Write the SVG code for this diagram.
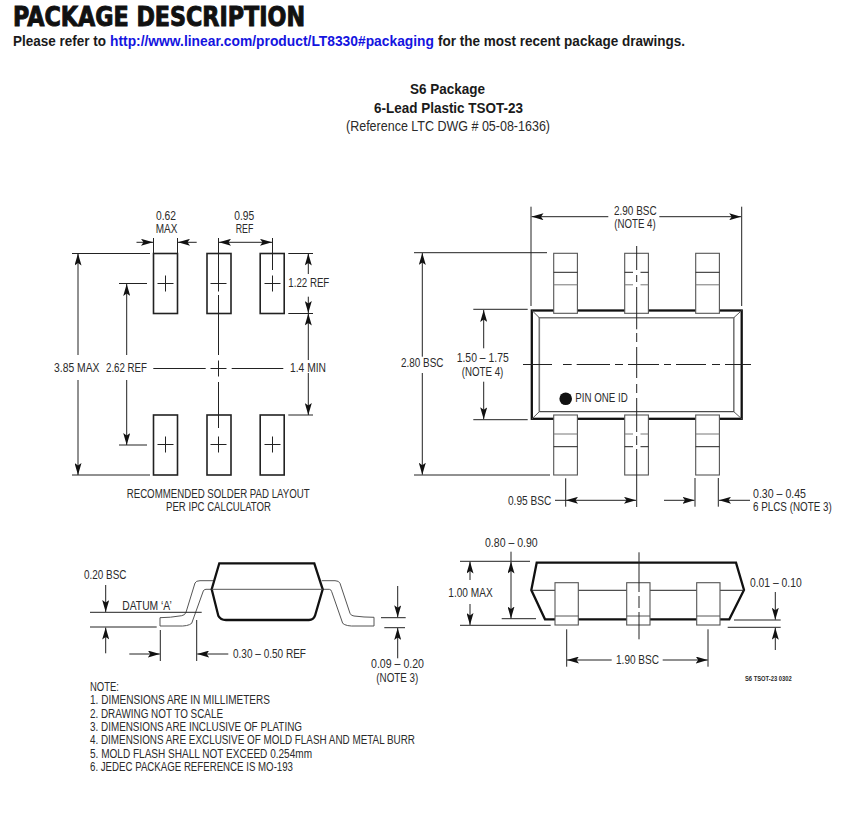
<svg xmlns="http://www.w3.org/2000/svg" width="861" height="813" viewBox="0 0 861 813">
<style>
text{font-family:"Liberation Sans",Arial,sans-serif;font-size:13px;fill:#2a2a2a}
.n{font-size:12.5px}
.b{font-weight:bold;font-size:14.5px;fill:#1a1a1a}
.l{fill:none;stroke:#222;stroke-width:1}
.g{fill:none;stroke:#555;stroke-width:1}
.gg{fill:none;stroke:#777;stroke-width:1.6}
.a{fill:none;stroke:#222;stroke-width:1;marker-end:url(#ah)}
.t{fill:none;stroke:#111;stroke-width:2.3;stroke-linejoin:miter}
.p{fill:#fff;stroke:#222;stroke-width:1.6}
.ld{fill:#fff;stroke:#555;stroke-width:1.1}
</style>
<defs>
<marker id="ah" markerUnits="userSpaceOnUse" markerWidth="12" markerHeight="7" viewBox="0 0 12 7" refX="12" refY="3.5" orient="auto">
<path d="M0 0L12 3.5L0 7L2.5 3.5Z" fill="#111"/>
</marker>
<path id="cross" d="M-8 0H8M0 -8V8" fill="none" stroke="#222" stroke-width="1"/>
<g id="lt"><rect x="0" y="0" width="23.7" height="60" class="ld"/><path d="M0 19H23.7" stroke="#222" fill="none"/><path d="M0 31.5H23.7" stroke="#777" fill="none"/></g>
<g id="lb"><rect x="0" y="0" width="23.7" height="60" class="ld"/><path d="M0 19H23.7" stroke="#777" fill="none"/><path d="M0 31.7H23.7" stroke="#222" fill="none"/></g>
<g id="lc"><rect x="0" y="0" width="23.7" height="60" class="ld"/></g>
</defs>
<rect width="861" height="813" fill="#fff"/>

<g id="header">
<text x="13" y="26" textLength="292" lengthAdjust="spacingAndGlyphs" style="font-family:'DejaVu Sans',sans-serif;font-weight:bold;font-size:26px;fill:#111;stroke:#111;stroke-width:1">PACKAGE DESCRIPTION</text>
<text class="b" x="13" y="45.5" textLength="93" lengthAdjust="spacingAndGlyphs">Please refer to</text>
<text class="b" x="110" y="45.5" textLength="324" lengthAdjust="spacingAndGlyphs" style="fill:#1414e0">http://www.linear.com/product/LT8330#packaging</text>
<text class="b" x="438" y="45.5" textLength="247" lengthAdjust="spacingAndGlyphs">for the most recent package drawings.</text>
<text class="b" x="410" y="94" textLength="75" lengthAdjust="spacingAndGlyphs">S6 Package</text>
<text class="b" x="374" y="113" textLength="149" lengthAdjust="spacingAndGlyphs">6-Lead Plastic TSOT-23</text>
<text x="346" y="131" textLength="204" lengthAdjust="spacingAndGlyphs" style="font-size:15px">(Reference LTC DWG # 05-08-1636)</text>
</g>

<g id="pad-layout">
<rect class="p" x="153.5" y="253.5" width="24" height="60"/>
<rect class="p" x="207" y="253.5" width="24" height="60"/>
<rect class="p" x="260.2" y="253.5" width="24" height="60"/>
<rect class="p" x="153.5" y="415" width="24" height="60"/>
<rect class="p" x="207" y="415" width="24" height="60"/>
<rect class="p" x="260.2" y="415" width="24" height="60"/>
<use href="#cross" x="165.5" y="283.5"/><use href="#cross" x="218.5" y="283.5"/><use href="#cross" x="272.5" y="283.5"/>
<use href="#cross" x="165.5" y="444.5"/><use href="#cross" x="218.5" y="444.5"/><use href="#cross" x="272.5" y="444.5"/>
<use href="#cross" x="218.5" y="368.5"/>
</g>
<g id="pad-dims">
<path class="l" d="M153.5 238V253M177.5 238V253M218.5 238V278M218.5 295V355M218.5 382V428M272.5 238V270"/>
<path class="l" d="M72 253.5H150M72 475H150M119 283.5H147M119 445H147M153.3 368.5H205.7M231.7 368.5H283.3M288.3 253.5H313M288.3 313.5H313M288.3 415H313"/>
<path class="a" d="M136.5 242.3H153"/><path class="a" d="M196.7 242.3H178"/>
<path class="a" d="M245 242.3H219"/><path class="a" d="M245 242.3H272"/>
<path class="a" d="M78 355V253.5"/><path class="a" d="M78 380V475"/>
<path class="a" d="M126.7 355V284"/><path class="a" d="M126.7 380V445"/>
<path class="a" d="M308.3 274V253.5"/><path class="a" d="M308.3 296.7V313"/>
<path class="a" d="M308.3 360V313.5"/><path class="a" d="M308.3 373V415"/>
<text x="156" y="219.5" textLength="20" lengthAdjust="spacingAndGlyphs">0.62</text><text x="155.7" y="233" textLength="21.6" lengthAdjust="spacingAndGlyphs">MAX</text>
<text x="234.3" y="219.5" textLength="20" lengthAdjust="spacingAndGlyphs">0.95</text><text x="235.7" y="233" textLength="17.6" lengthAdjust="spacingAndGlyphs">REF</text>
<text x="288.3" y="287.3" textLength="41" lengthAdjust="spacingAndGlyphs">1.22 REF</text>
<text x="54" y="372" textLength="45.5" lengthAdjust="spacingAndGlyphs">3.85 MAX</text>
<text x="106" y="372" textLength="41" lengthAdjust="spacingAndGlyphs">2.62 REF</text>
<text x="290" y="372" textLength="36" lengthAdjust="spacingAndGlyphs">1.4 MIN</text>
<text class="n" x="126.7" y="497.5" textLength="183" lengthAdjust="spacingAndGlyphs">RECOMMENDED SOLDER PAD LAYOUT</text>
<text class="n" x="166" y="510.5" textLength="105" lengthAdjust="spacingAndGlyphs">PER IPC CALCULATOR</text>
</g>

<g id="top-view">
<rect x="531.8" y="310.5" width="209.9" height="108.3" fill="#fff" stroke="#111" stroke-width="2.3"/>
<path class="gg" d="M733.8 411.7V317.7H539.3V411.7"/>
<path class="l" d="M539.3 411.7H733.8"/>
<path class="g" d="M532 310.5L539.3 317.7M741.7 310.5L733.8 317.7M532 418.8L539.3 411.7M741.7 418.8L733.8 411.7"/>
<use href="#lt" x="553.7" y="253.3"/><use href="#lc" x="624.7" y="253.3"/><use href="#lt" x="695.7" y="253.3"/>
<use href="#lb" x="553.7" y="415"/><use href="#lc" x="624.7" y="415"/><use href="#lb" x="695.7" y="415"/>
<path d="M624.7 272.3H633M640.5 272.3H648.4" stroke="#222" fill="none"/><path d="M624.7 284.8H633M640.5 284.8H648.4" stroke="#777" fill="none"/>
<path d="M624.7 434H633M640.5 434H648.4" stroke="#777" fill="none"/><path d="M624.7 446.7H633M640.5 446.7H648.4" stroke="#222" fill="none"/>
<path class="l" d="M636.7 246V270M636.7 275V282M636.7 287V329.3M636.7 333V342M636.7 347V378M636.7 384V393M636.7 398V432M636.7 436V445M636.7 449V507"/>
<path class="l" d="M523 364.5H552M563 364.5H571.7M576.7 364.5H610M615 364.5H623M628 364.5H659M664 364.5H671M676 364.5H706M712 364.5H720M725 364.5H751"/>
<circle cx="565.7" cy="398.7" r="6.3" fill="#111"/>
<text x="575.3" y="402.3" textLength="52.5" lengthAdjust="spacingAndGlyphs">PIN ONE ID</text>
</g>
<g id="top-dims">
<path class="l" d="M531 206.7V306M741.7 206.7V306M414 252.7H547M414 475H550M473.3 309.3H527.7M473.3 419.7H527.7M565.7 478.3V506.7M695 478V506.7M718.3 478V506.7M555 500.3H566"/>
<path class="a" d="M608.3 216.7H531.5"/><path class="a" d="M659.3 216.7H741.2"/>
<path class="a" d="M422.3 356.7V253"/><path class="a" d="M422.3 373V474.7"/>
<path class="a" d="M483.7 348.3V310"/><path class="a" d="M483.7 381.7V419.3"/>
<path class="a" d="M600 500.3H566"/><path class="a" d="M600 500.3H636"/>
<path class="a" d="M664 500.3H694.5"/><path class="a" d="M750 500.3H719"/>
<text x="614" y="215" textLength="42.7" lengthAdjust="spacingAndGlyphs">2.90 BSC</text><text x="614.3" y="228.3" textLength="41.4" lengthAdjust="spacingAndGlyphs">(NOTE 4)</text>
<text x="401" y="366.7" textLength="42.5" lengthAdjust="spacingAndGlyphs">2.80 BSC</text>
<text x="456.7" y="361.7" textLength="52" lengthAdjust="spacingAndGlyphs">1.50 – 1.75</text><text x="461.7" y="375.7" textLength="41.6" lengthAdjust="spacingAndGlyphs">(NOTE 4)</text>
<text x="508" y="504.7" textLength="43.3" lengthAdjust="spacingAndGlyphs">0.95 BSC</text>
<text x="753" y="497.7" textLength="53" lengthAdjust="spacingAndGlyphs">0.30 – 0.45</text>
<text x="753" y="511" textLength="78.7" lengthAdjust="spacingAndGlyphs">6 PLCS (NOTE 3)</text>
</g>

<g id="side-view">
<path class="g" d="M213.3 580.7H200Q196 580.7 195 583L186 612.3Q185 615.2 181.7 615.7Q170 617.7 160 617.7V626H178Q188 626.5 191.7 623.3L203.3 591Q204 589.3 206 589.3H212"/>
<path class="g" d="M321.7 580.7H335Q339 580.7 340 583.3L350 613.3Q351 615.8 354 616Q364 617.3 374 617.3V626H356Q346 626.5 342.7 623.3L331.7 591.7Q331 589.3 329.3 589.3H323"/>
<path class="t" d="M219.3 563.3H314.3L322.7 589.3L315 615.7Q313.5 620 309 620H226Q220.5 620 218.3 615.7L211.7 589.3Z"/>
<path class="g" d="M211.7 589.3H322.7"/>
</g>
<g id="side-dims">
<path class="l" d="M90 612.3H201.7M90 627H156.7M160.3 630V661M196.7 620V661M381 617.7H405.7M384.3 627.7H405"/>
<path class="a" d="M105.7 585V612"/><path class="a" d="M105.7 653.3V627.5"/>
<path class="a" d="M129.3 654H159.8"/><path class="a" d="M228.3 654H197.2"/>
<path class="a" d="M397.7 586V617.3"/><path class="a" d="M397.7 658.3V628"/>
<text x="84" y="579" textLength="42.5" lengthAdjust="spacingAndGlyphs">0.20 BSC</text>
<text x="122.3" y="610" textLength="49.4" lengthAdjust="spacingAndGlyphs">DATUM ‘A’</text>
<text x="233" y="657.7" textLength="73" lengthAdjust="spacingAndGlyphs">0.30 – 0.50 REF</text>
<text x="371" y="668" textLength="53" lengthAdjust="spacingAndGlyphs">0.09 – 0.20</text><text x="376.3" y="682" textLength="42" lengthAdjust="spacingAndGlyphs">(NOTE 3)</text>
</g>

<g id="end-view">
<path class="t" d="M536.7 562.7H736L744 590L729.3 619.3H545L531.3 590Z"/>
<path class="l" d="M531.3 590.3H744"/>
<rect class="ld" x="555" y="582.7" width="23.3" height="42.3"/><path class="g" d="M555 616H578.3"/>
<rect class="ld" x="626.7" y="582.7" width="23.3" height="42.3"/><path class="g" d="M626.7 616H650"/>
<rect class="ld" x="696.7" y="582.7" width="23.3" height="42.3"/><path class="g" d="M696.7 616H720"/>
<path class="l" d="M639 552.3V592M639 596V608M639 612V639.3"/>
</g>
<g id="end-dims">
<path class="l" d="M460 561.3H530M460 625.3H550.7M501.7 618.7H536M511 551.7V561M734 620H780.7M727.7 627.3H780.7M566.7 629.3V666.7M708 629.3V666.7"/>
<path class="a" d="M470 580V561.5"/><path class="a" d="M470 604V625"/>
<path class="a" d="M511 590V561.5"/><path class="a" d="M511 590V618.5"/>
<path class="a" d="M775.3 592V619.7"/><path class="a" d="M775.3 650V627.7"/>
<path class="a" d="M611.7 660H567"/><path class="a" d="M662.7 660H707.7"/>
<text x="485" y="546.7" textLength="52.7" lengthAdjust="spacingAndGlyphs">0.80 – 0.90</text>
<text x="448.3" y="596.7" textLength="44.4" lengthAdjust="spacingAndGlyphs">1.00 MAX</text>
<text x="750" y="586.7" textLength="51.7" lengthAdjust="spacingAndGlyphs">0.01 – 0.10</text>
<text x="616" y="663.7" textLength="43" lengthAdjust="spacingAndGlyphs">1.90 BSC</text>
<text x="745" y="680.7" textLength="46.7" lengthAdjust="spacingAndGlyphs" style="font-size:7px;font-weight:bold">S6 TSOT-23 0302</text>
</g>

<g id="notes">
<text class="n" x="90" y="691" textLength="29" lengthAdjust="spacingAndGlyphs">NOTE:</text>
<text class="n" x="90" y="704" textLength="180" lengthAdjust="spacingAndGlyphs">1. DIMENSIONS ARE IN MILLIMETERS</text>
<text class="n" x="90" y="718" textLength="133" lengthAdjust="spacingAndGlyphs">2. DRAWING NOT TO SCALE</text>
<text class="n" x="90" y="731" textLength="212" lengthAdjust="spacingAndGlyphs">3. DIMENSIONS ARE INCLUSIVE OF PLATING</text>
<text class="n" x="90" y="744" textLength="325" lengthAdjust="spacingAndGlyphs">4. DIMENSIONS ARE EXCLUSIVE OF MOLD FLASH AND METAL BURR</text>
<text class="n" x="90" y="758" textLength="222" lengthAdjust="spacingAndGlyphs">5. MOLD FLASH SHALL NOT EXCEED 0.254mm</text>
<text class="n" x="90" y="771" textLength="203" lengthAdjust="spacingAndGlyphs">6. JEDEC PACKAGE REFERENCE IS MO-193</text>
</g>
</svg>
